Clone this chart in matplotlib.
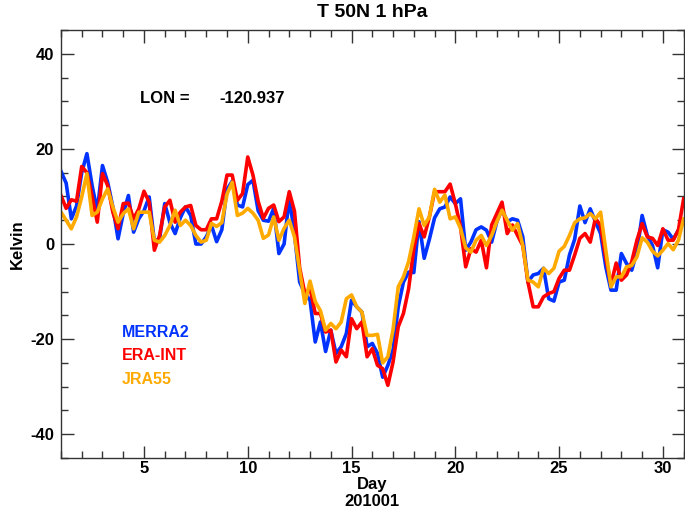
import matplotlib
matplotlib.use('Agg')
import matplotlib.pyplot as plt
import numpy as np
from matplotlib.ticker import MultipleLocator

plt.rcParams['font.family'] = ['Liberation Sans', 'DejaVu Sans']
plt.rcParams['font.weight'] = 'bold'
plt.rcParams['axes.unicode_minus'] = False

# 6-hourly values, Jan 2010, one row per day (00, 06, 12, 18 UTC)
merra2 = [15.3, 12.8, 5.3, 8.0,
          15.0, 19.0, 12.3, 7.0,
          16.5, 13.0, 7.8, 1.1,
          6.4, 10.2, 2.5, 5.3,
          7.0, 9.9, 0.5, 1.1,
          8.5, 4.5, 2.2, 5.5,
          7.8, 6.0, 0.0, 0.0,
          1.5, 3.9, 0.5, 3.0,
          11.5, 13.2, 8.2, 7.8,
          12.5, 13.4, 7.0, 5.0,
          4.8, 7.5, -2.0, 0.0,
          9.6, 2.2, -8.0, -10.4,
          -11.8, -20.6, -16.4, -22.6,
          -18.1, -23.0, -21.6, -18.8,
          -11.8, -13.2, -14.3, -21.6,
          -20.9, -23.0, -28.0, -25.5,
          -22.3, -13.2, -8.0, -5.9,
          -6.0, 4.7, -3.0, 1.0,
          5.5, 7.4, 7.8, 9.9,
          8.5, 9.5, -1.3, 0.4,
          3.0, 3.6, 2.9, 0.4,
          4.7, 7.4, 4.7, 5.3,
          5.0, 1.5, -8.0, -6.5,
          -6.2, -5.1, -11.5, -12.0,
          -8.0, -7.6, -2.3, 1.0,
          8.0, 4.5, 7.4, 4.7,
          2.2, -4.8, -9.7, -9.7,
          -2.0, -4.1, -5.5, -1.6,
          6.0, 1.8, -0.3, -5.0,
          3.0, 2.5, 1.0, 2.9,
          5.0]

era_int = [10.2, 7.5, 9.3, 9.0,
           16.3, 15.0, 10.0, 4.6,
           14.8, 12.3, 6.7, 3.2,
           8.5, 8.6, 5.3, 7.4,
           11.1, 8.8, -1.3, 1.8,
           7.8, 9.2, 4.6, 6.7,
           7.8, 8.1, 3.9, 3.0,
           3.0, 5.3, 5.3, 9.0,
           14.5, 14.5, 9.2, 10.6,
           18.3, 14.5, 9.0, 5.4,
           7.5, 8.2, 4.7, 5.7,
           11.0, 6.9, -5.0, -10.4,
           -9.3, -14.6, -14.6, -18.5,
           -18.1, -24.8, -22.3, -23.7,
           -15.7, -17.8, -16.4, -23.7,
           -22.0, -25.5, -26.2, -29.7,
           -24.8, -17.4, -14.6, -9.4,
           -1.0, 4.3, 1.5, 5.7,
           11.0, 11.0, 11.0, 12.6,
           8.5, 3.6, -4.8, -1.0,
           -1.7, 0.8, -5.0, 4.0,
           6.4, 8.8, 2.2, 4.0,
           1.8, -0.3, -8.0, -13.2,
           -13.2, -11.1, -10.4, -10.0,
           -7.2, -5.5, -5.5, -2.3,
           1.2, 2.2, 0.4, 5.4,
           3.9, -3.0, -8.5, -4.0,
           -7.6, -6.5, -3.7, 0.8,
           4.3, 1.5, 1.2, -0.3,
           3.2, 0.8, 0.8, 3.0,
           9.5]

jra55 = [6.7, 5.0, 3.2, 5.7,
         9.9, 14.8, 6.0, 6.7,
         9.5, 11.6, 7.8, 4.6,
         6.4, 7.4, 3.2, 6.7,
         6.7, 6.7, 0.8, 0.4,
         1.8, 3.9, 7.1, 3.9,
         5.0, 3.9, 1.8, 0.4,
         0.8, 4.3, 3.7, 4.5,
         10.5, 13.0, 6.0, 6.5,
         7.5, 6.5, 5.0, 1.2,
         1.9, 5.7, 0.8, 3.3,
         5.0, 1.5, -5.5, -12.5,
         -7.8, -12.1, -14.0, -18.1,
         -16.7, -17.8, -16.4, -11.5,
         -10.7, -13.2, -14.3, -19.2,
         -19.2, -19.0, -25.0, -23.7,
         -18.0, -9.0, -6.9, -3.7,
         1.5, 7.4, 3.9, 5.7,
         11.5, 8.8, 10.3, 5.3,
         5.7, 3.3, -0.8, -1.7,
         0.8, 1.8, -0.3, 1.8,
         4.7, 7.1, 5.0, 2.9,
         4.3, -0.3, -7.6, -8.0,
         -9.0, -5.1, -6.2, -5.1,
         -1.5, -0.5, 1.8, 4.5,
         5.3, 5.5, 6.4, 5.3,
         6.7, -1.3, -9.0, -6.9,
         -6.9, -4.8, -4.5, -2.7,
         1.3, 0.4, -1.5, -2.5,
         -1.3, 0.1, -1.2, 0.8,
         5.3]

days = np.arange(len(merra2)) * 0.25 + 1.0

names = ['MERRA2', 'ERA-INT', 'JRA55']
colors = ['#0033ff', '#ff0000', '#ffaa00']

fig = plt.figure(figsize=(6.85, 5.17), dpi=100)
ax = fig.add_axes([0.089, 0.114, 0.909, 0.828])

for vals, col in zip([merra2, era_int, jra55], colors):
    ax.plot(days, vals, color=col, linewidth=2.6)

ax.set_xlim(1, 31)
ax.set_ylim(-45, 45)
ax.xaxis.set_major_locator(MultipleLocator(5))
ax.xaxis.set_minor_locator(MultipleLocator(1))
ax.yaxis.set_major_locator(MultipleLocator(20))
ax.yaxis.set_minor_locator(MultipleLocator(5))
ax.tick_params(which='both', direction='in', top=True, right=True,
               labelsize=12, width=1, color='#333333')
ax.tick_params(which='major', length=9)
ax.tick_params(which='minor', length=5)
ax.tick_params(axis='x', which='major', pad=2)
ax.tick_params(axis='y', which='major', pad=5)
for s in ax.spines.values():
    s.set_linewidth(1)
    s.set_color('#333333')

ax.set_title('T 50N 1 hPa', fontsize=14, fontweight='bold', pad=9)
ax.set_ylabel('Kelvin', fontsize=12, fontweight='bold')
ax.yaxis.set_label_coords(-0.058, 0.5)
ax.set_xlabel('Day\n201001', fontsize=12, fontweight='bold', labelpad=1,
              linespacing=1.15)

ax.text(0.127, 0.841, 'LON =', transform=ax.transAxes, fontsize=12,
        fontweight='bold', va='center', ha='left')
ax.text(0.255, 0.841, '-120.937', transform=ax.transAxes, fontsize=12,
        fontweight='bold', va='center', ha='left')

for i, (nm, col) in enumerate(zip(names, colors)):
    ax.text(0.098, 0.294 - i * 0.055, nm, transform=ax.transAxes,
            color=col, fontsize=11.5, fontweight='bold', va='center')

fig.savefig('out.png', dpi=100)
